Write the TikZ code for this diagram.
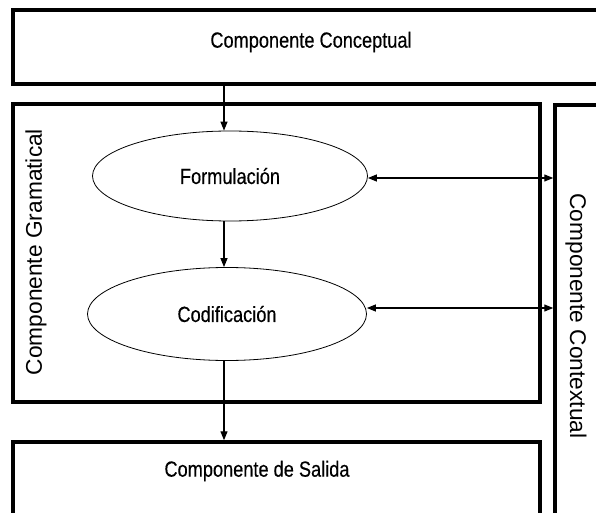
\documentclass[tikz,border=0pt]{standalone}
\usepackage{fontspec}
\setmainfont{Liberation Sans}
\newfontfamily\fuenteangosta[FakeStretch=0.83,FakeBold=0.4]{Liberation Sans}
\usepackage{tikz}
\usetikzlibrary{shapes.geometric,arrows.meta}

\tikzset{
  caja/.style={draw,rectangle,line width=3.5bp,inner sep=0pt},
  elipse/.style={draw,ellipse,line width=0.8bp,inner sep=0pt,font=\fuenteangosta\fontsize{22}{26}\selectfont},
  texto/.style={inner sep=0pt,font=\fuenteangosta\fontsize{22}{26}\selectfont},
  vertical/.style={inner sep=0pt,font=\fontsize{22.8}{26}\selectfont},
  flecha/.style={-{Triangle[length=9bp,width=7bp]},line width=1.2bp},
  doble/.style={{Triangle[length=9bp,width=7bp]}-{Triangle[length=9bp,width=7bp]},line width=1.2bp}
}

\begin{document}
\begin{tikzpicture}[x=1bp,y=-1bp]
                      \useasboundingbox (0,0) rectangle (596,513);
                      % cajas
                      \node[caja,minimum width=597bp,minimum height=74bp](conceptual)at(311.5,47){};
                      \node[caja,minimum width=527bp,minimum height=298bp](gramatical)at(276.5,253){};
                      \node[caja,minimum width=45bp,minimum height=425bp](contextual)at(577.5,317.5){};
                      \node[caja,minimum width=527bp,minimum height=88bp](salida)at(276.5,486){};
                      \node[texto](tconceptual)at(311,42){Componente Conceptual};
                      \node[texto](tsalida)at(257,471){Componente de Salida};
                      \node[vertical,rotate=90](tgramatical)at(36,252){Componente Gramatical};
                      \node[vertical,rotate=-90](tcontextual)at(576,316){Componente Contextual};
                      % elipses
                      \node[elipse,minimum width=275bp,minimum height=90bp](formulacion)at(230,176){Formulación};
                      \node[elipse,minimum width=279bp,minimum height=93bp](codificacion)at(227,314){Codificación};
                      % flechas
                      \coordinate(eje)at(224,0);
                      \coordinate(c1)at([yshift=-2bp]formulacion.east);
                      \coordinate(c2)at([yshift=6bp]codificacion.east);
                      \draw[flecha](conceptual.south -| eje)--(formulacion.north -| eje);
                      \draw[flecha](formulacion.south -| eje)--(codificacion.north -| eje);
                      \draw[flecha](codificacion.south -| eje)--(salida.north -| eje);
                      \draw[doble](c1)--(c1 -| contextual.west);
                      \draw[doble](c2)--(c2 -| contextual.west);
                  \end{tikzpicture}
\end{document}
